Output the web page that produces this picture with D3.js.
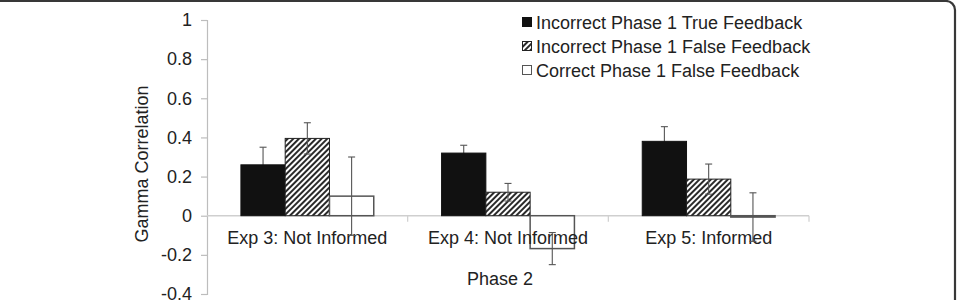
<!DOCTYPE html>
<html>
<head>
<meta charset="utf-8">
<script src="https://cdn.jsdelivr.net/npm/d3@7"></script>
<style>
  body { margin: 0; background: #fff; }
  svg text { font-family: "Liberation Sans", Arial, sans-serif; fill: #222; }
</style>
</head>
<body>
<svg id="chart" width="957" height="300"></svg>
<script>
// chart data
const categories = ["Exp 3: Not Informed", "Exp 4: Not Informed", "Exp 5: Informed"];
const seriesNames = ["Incorrect Phase 1 True Feedback", "Incorrect Phase 1 False Feedback", "Correct Phase 1 False Feedback"];
const trueFeedback = [0.26, 0.32, 0.38];
const trueFeedbackErr = [0.09, 0.04, 0.075];
const falseFeedback = [0.395, 0.12, 0.187];
const falseFeedbackErr = [0.08, 0.045, 0.077];
const correctFalse = [0.10, -0.168, -0.007];
const correctFalseErr = [0.20, 0.082, 0.124];
const yTicks = [-0.4, -0.2, 0, 0.2, 0.4, 0.6, 0.8, 1];

const seriesValues = [trueFeedback, falseFeedback, correctFalse];
const seriesErrors = [trueFeedbackErr, falseFeedbackErr, correctFalseErr];

const svg = d3.select("#chart");

/* rounded frame round the figure */
svg.append("rect")
    .attr("x", -20).attr("y", 1)
    .attr("width", 975).attr("height", 330)
    .attr("rx", 9)
    .attr("fill", "none")
    .attr("stroke", "#383838")
    .attr("stroke-width", 2.2);

/* hatch pattern */
svg.append("defs").append("pattern")
    .attr("id", "hatch")
    .attr("patternUnits", "userSpaceOnUse")
    .attr("width", 4).attr("height", 4)
    .attr("patternTransform", "rotate(45)")
  .call(function(p) {
      p.append("rect").attr("width", 4).attr("height", 4).attr("fill", "#fff");
      p.append("line").attr("x1", 1).attr("y1", 0).attr("x2", 1).attr("y2", 4)
        .attr("stroke", "#111").attr("stroke-width", 1.8);
  });

const fills = ["#111", "url(#hatch)", "#fff"];
const strokes = ["#111", "#222", "#555"];

let margin = {left: 207, right: 148, top: 20, bottom: 6};
let width = 957 - margin.left - margin.right;   // 602
let height = 300 - margin.top - margin.bottom;  // 274

let x0 = d3.scaleBand().domain(categories).range([0, width]);
let groupW = x0.bandwidth() * 0.662;
let x1 = d3.scaleBand().domain(d3.range(seriesNames.length))
    .range([(x0.bandwidth() - groupW) / 2, (x0.bandwidth() + groupW) / 2]);
let y = d3.scaleLinear().domain([-0.4, 1]).range([height, 0]);

let plot = svg.append("g")
    .attr("transform", "translate(" + margin.left + "," + margin.top + ")");

/* y axis */
let yAxis = plot.append("g")
    .call(d3.axisLeft(y).tickValues(yTicks).tickSize(6).tickPadding(9)
        .tickFormat(function(d) { return String(+d.toFixed(1)); }));
yAxis.select(".domain").attr("stroke", "#bdbdbd").attr("stroke-width", 1.2);
yAxis.selectAll(".tick line").attr("stroke", "#bdbdbd").attr("stroke-width", 1.2);
yAxis.selectAll(".tick text").attr("font-size", 18).attr("fill", "#222");

/* zero line with category ticks */
plot.append("line")
    .attr("x1", 0).attr("x2", width)
    .attr("y1", y(0)).attr("y2", y(0))
    .attr("stroke", "#cfcfcf").attr("stroke-width", 1.5);
plot.selectAll("line.cat-tick")
    .data(categories)
    .enter()
    .append("line")
    .attr("class", "cat-tick")
    .attr("x1", function(d) { return x0(d) + x0.bandwidth(); })
    .attr("x2", function(d) { return x0(d) + x0.bandwidth(); })
    .attr("y1", y(0)).attr("y2", y(0) + 6)
    .attr("stroke", "#cfcfcf").attr("stroke-width", 1.2);

function addErrorBars(s) {
    let vals = seriesValues[s], errs = seriesErrors[s];
    let g = plot.selectAll("g.err" + s)
        .data(vals)
        .enter()
        .append("g")
        .attr("class", "err" + s)
        .attr("transform", function(d, i) {
            return "translate(" + (x0(categories[i]) + x1(s) + x1.bandwidth() / 2) + ",0)";
        });
    g.append("line")
        .attr("y1", function(d, i) { return y(d + errs[i]); })
        .attr("y2", function(d, i) { return y(d - errs[i]); })
        .attr("stroke", "#555").attr("stroke-width", 1.1);
    g.append("line")
        .attr("x1", -3.5).attr("x2", 3.5)
        .attr("y1", function(d, i) { return y(d + errs[i]); })
        .attr("y2", function(d, i) { return y(d + errs[i]); })
        .attr("stroke", "#555").attr("stroke-width", 1.1);
    g.append("line")
        .attr("x1", -3.5).attr("x2", 3.5)
        .attr("y1", function(d, i) { return y(d - errs[i]); })
        .attr("y2", function(d, i) { return y(d - errs[i]); })
        .attr("stroke", "#555").attr("stroke-width", 1.1);
}

// the black series hides its lower whisker, so draw it first
addErrorBars(0);

/* bars */
seriesValues.forEach(function(vals, s) {
    plot.selectAll("rect.series" + s)
        .data(vals)
        .enter()
        .append("rect")
        .attr("class", "series" + s)
        .attr("x", function(d, i) { return x0(categories[i]) + x1(s); })
        .attr("width", x1.bandwidth())
        .attr("y", function(d) { return y(Math.max(0, d)); })
        .attr("height", function(d) { return Math.max(1, Math.abs(y(d) - y(0))); })
        .attr("fill", fills[s])
        .attr("stroke", strokes[s])
        .attr("stroke-width", s == 2 ? 1.5 : 1);
});

/* category labels */
plot.selectAll("text.cat")
    .data(categories)
    .enter()
    .append("text")
    .attr("class", "cat")
    .attr("x", function(d) { return x0(d) + x0.bandwidth() / 2; })
    .attr("y", y(0) + 28)
    .attr("text-anchor", "middle")
    .attr("font-size", 18)
    .text(function(d) { return d; });

addErrorBars(1);
addErrorBars(2);

/* axis titles */
svg.append("text")
    .attr("x", 500).attr("y", 285)
    .attr("text-anchor", "middle")
    .attr("font-size", 18)
    .text("Phase 2");

svg.append("text")
    .attr("transform", "translate(148,164) rotate(-90)")
    .attr("text-anchor", "middle")
    .attr("font-size", 18)
    .text("Gamma Correlation");

/* legend */
let legend = svg.append("g").attr("transform", "translate(522,22)");
let rows = legend.selectAll("g")
    .data(seriesNames)
    .enter()
    .append("g")
    .attr("transform", function(d, i) { return "translate(0," + (i * 24) + ")"; });
rows.append("rect")
    .attr("x", 0.5).attr("y", -4.5)
    .attr("width", 9).attr("height", 9)
    .attr("fill", function(d, i) { return fills[i]; })
    .attr("stroke", function(d, i) { return strokes[i]; })
    .attr("stroke-width", 1);
rows.append("text")
    .attr("x", 14).attr("y", 6.5)
    .attr("font-size", 18)
    .text(function(d) { return d; });
</script>
</body>
</html>
